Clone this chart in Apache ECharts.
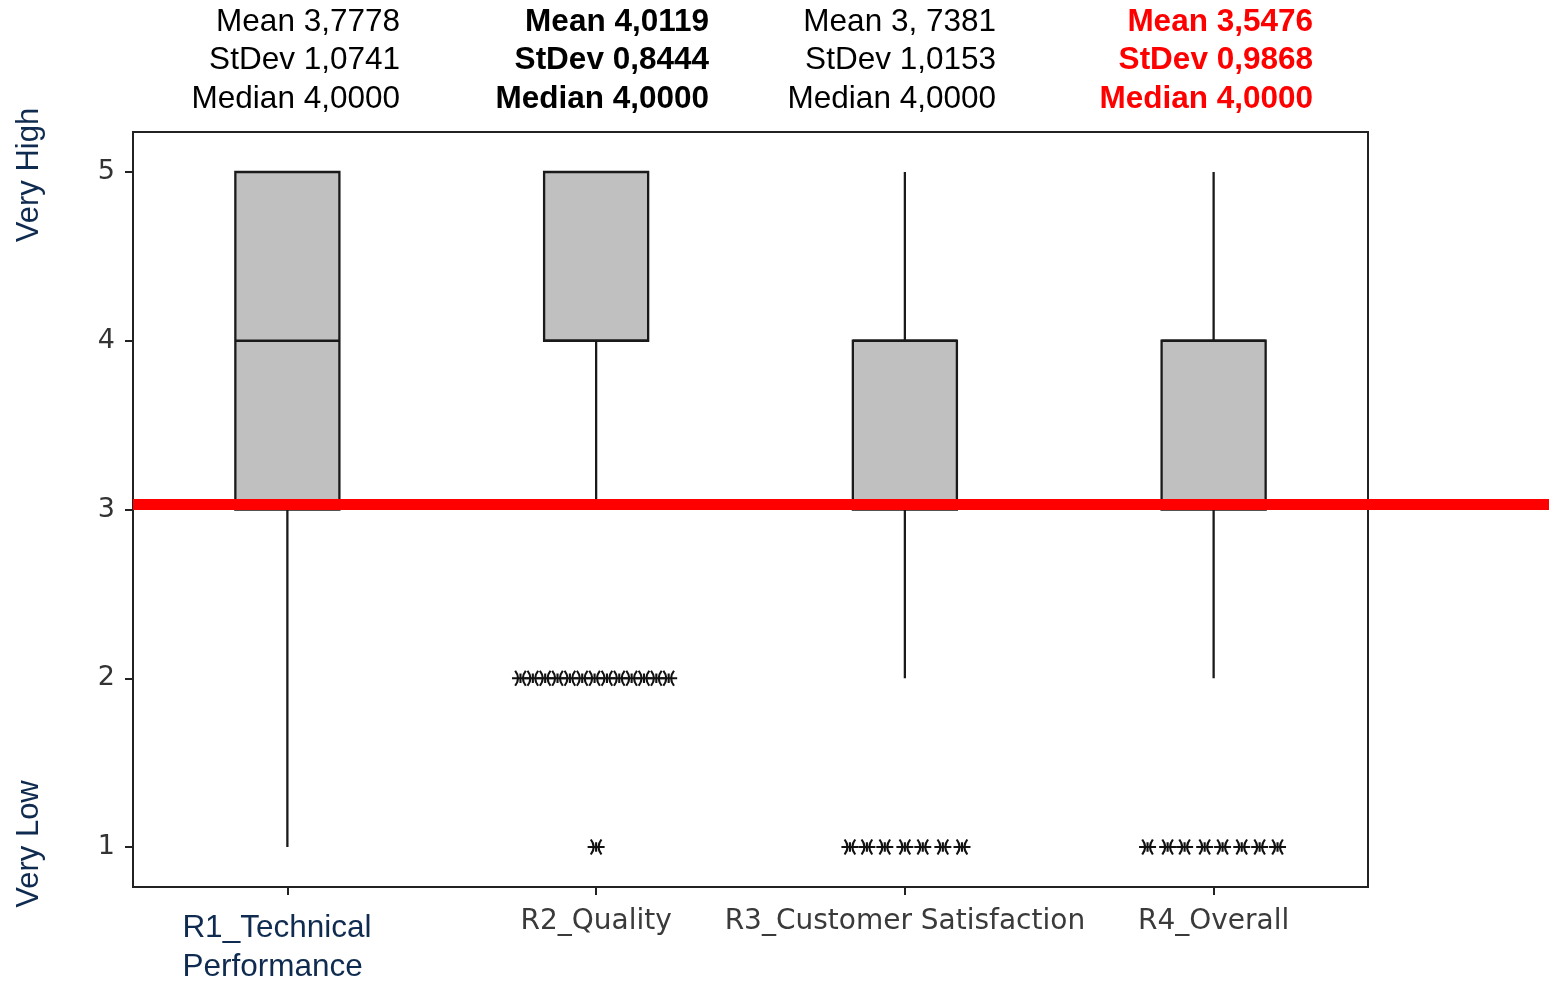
<!DOCTYPE html>
<html>
<head>
<meta charset="utf-8">
<script src="https://cdn.jsdelivr.net/npm/echarts@6/dist/echarts.min.js"></script>
<style>
html,body{margin:0;padding:0;background:#fff;}
#chart{width:1549px;height:981px;}
</style>
</head>
<body>
<div id="chart"></div>
<script>
// ---- data ----
const categories = ['R1_Technical\nPerformance', 'R2_Quality', 'R3_Customer Satisfaction', 'R4_Overall'];
// [whisker low, Q1, median, Q3, whisker high]
const boxValues = [
  [1, 3, 4, 5, 5],
  [3, 4, 4, 5, 5],
  [2, 3, 4, 4, 5],
  [2, 3, 4, 4, 5]
];
// outliers: [category position (jittered), value]
const outliers = [
  [0.755, 2], [0.795, 2], [0.835, 2], [0.875, 2], [0.915, 2], [0.955, 2], [0.995, 2],
  [1.035, 2], [1.075, 2], [1.115, 2], [1.155, 2], [1.195, 2], [1.235, 2],
  [1.0, 1],
  [1.822, 1], [1.877, 1], [1.935, 1], [2.0, 1], [2.058, 1], [2.123, 1], [2.185, 1],
  [2.786, 1], [2.851, 1], [2.906, 1], [2.971, 1], [3.029, 1], [3.091, 1], [3.149, 1], [3.207, 1]
];
const statsLines = [
  ['Mean 3,7778', 'StDev 1,0741', 'Median 4,0000'],
  ['Mean 4,0119', 'StDev 0,8444', 'Median 4,0000'],
  ['Mean 3, 7381', 'StDev 1,0153', 'Median 4,0000'],
  ['Mean 3,5476', 'StDev 0,9868', 'Median 4,0000']
];
const yTicks = [1, 2, 3, 4, 5];
const thresholdValue = 3.03;
const yLabelHigh = 'Very High';
const yLabelLow = 'Very Low';

// ---- styles ----
const yMin = 0.763, yMax = 5.237;
const navy = '#0f2b4f';
const statStyles = [
  {fontWeight: 'normal', fill: '#000'},
  {fontWeight: 'bold', fill: '#000'},
  {fontWeight: 'normal', fill: '#000'},
  {fontWeight: 'bold', fill: '#ff0000'}
];
const statRight = [400, 709, 996, 1313];

const chart = echarts.init(document.getElementById('chart'), null, {renderer: 'canvas'});

const graphics = [];
statsLines.forEach((lines, i) => {
  graphics.push({
    type: 'text',
    x: statRight[i], y: 3,
    style: {
      text: lines.join('\n'),
      align: 'right', verticalAlign: 'top',
      font: statStyles[i].fontWeight + ' 31.5px "Liberation Sans", Arial, sans-serif',
      lineHeight: 38.5,
      fill: statStyles[i].fill
    }
  });
});
graphics.push({
  type: 'text', x: 29, y: 175, rotation: Math.PI / 2,
  style: {text: yLabelHigh, align: 'center', verticalAlign: 'middle',
    font: '31px "Liberation Sans", Arial, sans-serif', fill: navy}
});
graphics.push({
  type: 'text', x: 29, y: 844, rotation: Math.PI / 2,
  style: {text: yLabelLow, align: 'center', verticalAlign: 'middle',
    font: '31px "Liberation Sans", Arial, sans-serif', fill: navy}
});

const option = {
  animation: false,
  backgroundColor: '#fff',
  graphic: graphics,
  grid: [
    {left: 133, right: 181, top: 132, bottom: 94, containLabel: false, outerBoundsMode: 'none',
      show: true, borderColor: '#222', borderWidth: 2, backgroundColor: 'transparent', z: 1},
    {left: 133, right: 0, top: 132, bottom: 94, containLabel: false, outerBoundsMode: 'none', show: false}
  ],
  xAxis: [
    {
      type: 'category', gridIndex: 0, data: categories, boundaryGap: true,
      axisLine: {show: true, onZero: false, lineStyle: {color: '#222', width: 2}},
      axisTick: {show: true, alignWithLabel: true, length: 8, lineStyle: {color: '#222', width: 2}},
      splitLine: {show: false},
      axisLabel: {
        margin: 22, interval: 0, hideOverlap: false,
        formatter: function (v, i) {
          if (i === 0) {
            return v.split('\n').map(s => '{a|' + s + '}').join('\n');
          }
          return '{b|' + v + '}';
        },
        rich: {
          a: {fontSize: 31.5, fontFamily: '"Liberation Sans", Arial, sans-serif', color: navy, lineHeight: 39, width: 210, align: 'left'},
          b: {fontSize: 28, fontFamily: '"DejaVu Sans", sans-serif', color: '#3a3a3a', lineHeight: 26}
        }
      }
    },
    {type: 'value', gridIndex: 0, min: -0.5, max: 3.5, show: false},
    {type: 'value', gridIndex: 1, min: 0, max: 1, show: false}
  ],
  yAxis: [
    {
      type: 'value', gridIndex: 0, min: yMin, max: yMax,
      axisLine: {show: true, onZero: false, lineStyle: {color: '#222', width: 2}},
      axisTick: {show: true, length: 8, customValues: yTicks, lineStyle: {color: '#222', width: 2}},
      splitLine: {show: false},
      axisLabel: {customValues: yTicks, margin: 18, fontSize: 27, fontFamily: '"DejaVu Sans", sans-serif', color: '#333'}
    },
    {type: 'value', gridIndex: 1, min: yMin, max: yMax, show: false}
  ],
  series: [
    {
      type: 'custom', xAxisIndex: 0, yAxisIndex: 0, z: 3,
      data: boxValues.map((v, i) => [i].concat(v)),
      renderItem: function (params, api) {
        const idx = api.value(0);
        const lo = api.coord([idx, api.value(1)]);
        const q1 = api.coord([idx, api.value(2)]);
        const md = api.coord([idx, api.value(3)]);
        const q3 = api.coord([idx, api.value(4)]);
        const hi = api.coord([idx, api.value(5)]);
        const halfW = api.size([1, 0])[0] * 0.337 / 2;
        const cx = q1[0];
        const lineStyle = {stroke: '#1a1a1a', lineWidth: 2.3};
        return {
          type: 'group',
          children: [
            {type: 'line', shape: {x1: cx, y1: lo[1], x2: cx, y2: q1[1]}, style: lineStyle},
            {type: 'line', shape: {x1: cx, y1: q3[1], x2: cx, y2: hi[1]}, style: lineStyle},
            {type: 'rect', shape: {x: cx - halfW, y: q3[1], width: halfW * 2, height: q1[1] - q3[1]},
              style: {fill: '#c0c0c0', stroke: '#1a1a1a', lineWidth: 2.3}},
            {type: 'line', shape: {x1: cx - halfW, y1: md[1], x2: cx + halfW, y2: md[1]}, style: lineStyle}
          ]
        };
      }
    },
    {
      type: 'scatter', xAxisIndex: 1, yAxisIndex: 0, z: 4,
      data: outliers,
      symbol: 'path://M0,7 L16,7 M3,0 Q8.5,7 3,14 M13,0 Q7.5,7 13,14 M8,2.5 L8,11.5',
      symbolSize: [17, 15],
      itemStyle: {color: 'transparent', borderColor: '#111', borderWidth: 2, opacity: 1}
    },
    {
      type: 'line', xAxisIndex: 2, yAxisIndex: 1, z: 10,
      data: [[0, thresholdValue], [1, thresholdValue]],
      symbol: 'none',
      lineStyle: {color: '#ff0000', width: 11},
      silent: true
    }
  ]
};
chart.setOption(option);
</script>
</body>
</html>
